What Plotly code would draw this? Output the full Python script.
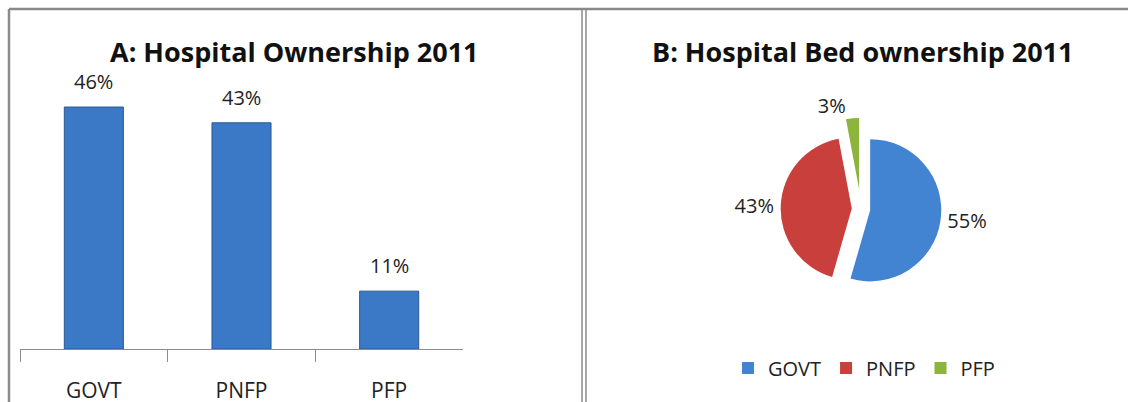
import plotly.graph_objects as go

# A: hospital ownership (share of hospitals)
categories = ['GOVT', 'PNFP', 'PFP']
hospital_share = [46, 43, 11]
hospital_text = ['46%', '43%', '11%']

# B: hospital bed ownership (share of beds)
bed_share = [55, 43, 3]
bed_text = ['55%', '43%', '3%']

FONT = 'Open Sans'
W, H = 1128, 402


def fx(x):
    # pixel x -> paper fraction
    return x / W


def fy(y):
    # pixel y (from top) -> paper fraction
    return (H - y) / H


fig = go.Figure()

fig.add_trace(go.Bar(
    x=categories, y=hospital_share,
    marker=dict(color='#3b78c6', line=dict(color='#2a5894', width=1)),
    width=0.4, showlegend=False, hoverinfo='x+y',
    xaxis='x', yaxis='y'
))

fig.add_trace(go.Pie(
    labels=categories, values=bed_share,
    text=bed_text, textinfo='text', textposition='outside',
    textfont=dict(size=20, color='#222222', family=FONT),
    marker=dict(colors=['#4283d2', '#c83f3c', '#8db43c'],
                line=dict(color='white', width=0)),
    pull=[0.13, 0.13, 0.28], sort=False, direction='clockwise', rotation=0,
    domain=dict(x=[fx(724), fx(998)], y=[fy(300), fy(118)]),
    hoverinfo='label+percent'
))

bar_labels = [
    dict(x=c, y=v, text=t, xref='x', yref='y', showarrow=False,
         yanchor='bottom', yshift=10,
         font=dict(size=20, color='#222222', family=FONT))
    for c, v, t in zip(categories, hospital_share, hospital_text)
]

titles = [
    dict(text='<b>A: Hospital Ownership 2011</b>', x=fx(294), y=fy(52),
         xref='paper', yref='paper', xanchor='center', yanchor='middle', showarrow=False,
         font=dict(size=27, family=FONT, color='#111111')),
    dict(text='<b>B: Hospital Bed ownership 2011</b>', x=fx(863), y=fy(52),
         xref='paper', yref='paper', xanchor='center', yanchor='middle', showarrow=False,
         font=dict(size=27, family=FONT, color='#111111')),
]

border = dict(color='#8a8a8a', width=2.5)
thin = dict(color='#8a8a8a', width=1.5)

fig.update_layout(
    width=W, height=H,
    margin=dict(l=0, r=0, t=0, b=0, autoexpand=False),
    paper_bgcolor='white', plot_bgcolor='white',
    font=dict(family=FONT, color='#222222'),
    xaxis=dict(
        domain=[fx(20), fx(463)], range=[-0.5, 2.5],
        showline=True, linecolor='#8c8c8c', linewidth=1,
        ticks='outside', tickson='boundaries', ticklen=12, tickcolor='#8c8c8c',
        ticklabelstandoff=23, automargin=False,
        tickfont=dict(size=21, color='#222222', family=FONT),
        showgrid=False, zeroline=False, fixedrange=True
    ),
    yaxis=dict(
        domain=[fy(349), fy(86)], range=[0, 50],
        visible=False, fixedrange=True, automargin=False
    ),
    legend=dict(
        orientation='h', x=fx(864), xanchor='center', y=fy(368), yanchor='middle',
        font=dict(size=20, color='#222222', family=FONT),
        traceorder='normal'
    ),
    annotations=bar_labels + titles,
    shapes=[
        dict(type='line', xref='paper', yref='paper', x0=fx(9), x1=1, y0=fy(9), y1=fy(9), line=border),
        dict(type='line', xref='paper', yref='paper', x0=fx(9), x1=fx(9), y0=0, y1=fy(9), line=border),
        dict(type='line', xref='paper', yref='paper', x0=fx(582), x1=fx(582), y0=0, y1=fy(9), line=thin),
        dict(type='line', xref='paper', yref='paper', x0=fx(586), x1=fx(586), y0=0, y1=fy(9), line=thin),
    ]
)

# drop the browser's default body margin so the figure fills the window
fig.write_html('out.html', config={'displayModeBar': False},
               post_script="document.body.style.margin='0px';")
